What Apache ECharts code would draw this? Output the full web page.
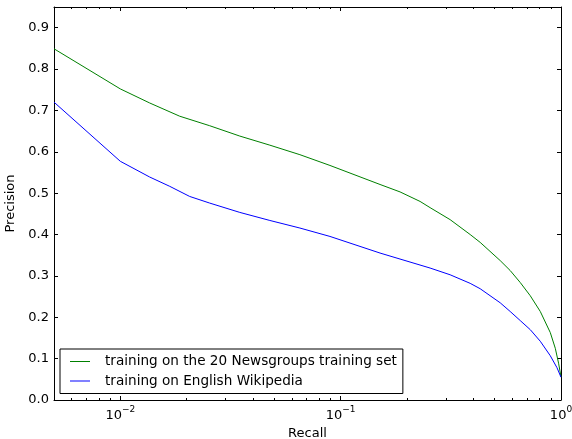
<!DOCTYPE html>
<html>
<head>
<meta charset="utf-8">
<script src="https://cdn.jsdelivr.net/npm/echarts@6/dist/echarts.min.js"></script>
<style>
html,body{margin:0;padding:0;background:#fff;}
#chart{width:572px;height:439px;}
</style>
</head>
<body>
<div id="chart"></div>
<script>
const newsRecall    = [0.005, 0.01, 0.01359, 0.0186, 0.02545, 0.03485, 0.04771, 0.06531, 0.08942, 0.1509, 0.186, 0.2293, 0.2546, 0.3139, 0.387, 0.4297, 0.5297, 0.588, 0.6531, 0.7253, 0.8052, 0.8941, 0.942, 0.975, 1.0];
const newsPrecision = [0.849, 0.752, 0.718, 0.686, 0.663, 0.638, 0.616, 0.593, 0.567, 0.521, 0.503, 0.480, 0.465, 0.436, 0.400, 0.381, 0.337, 0.313, 0.284, 0.252, 0.214, 0.163, 0.125, 0.089, 0.056];
const wikiRecall    = [0.005, 0.01, 0.01359, 0.01676, 0.02065, 0.02545, 0.03485, 0.04771, 0.06531, 0.08942, 0.1509, 0.2546, 0.3139, 0.387, 0.4297, 0.5297, 0.588, 0.6531, 0.7253, 0.8052, 0.8941, 0.959, 1.0];
const wikiPrecision = [0.720, 0.577, 0.539, 0.5165, 0.492, 0.476, 0.4535, 0.434, 0.4157, 0.3954, 0.3552, 0.319, 0.3027, 0.282, 0.269, 0.235, 0.214, 0.192, 0.170, 0.142, 0.107, 0.078, 0.055];
const seriesNames = ['training on the 20 Newsgroups training set', 'training on English Wikipedia'];
const xMajorTicks = [0.01, 0.1, 1];
const xMinorTicks = [0.006, 0.007, 0.008, 0.009, 0.02, 0.03, 0.04, 0.05, 0.06, 0.07, 0.08, 0.09, 0.2, 0.3, 0.4, 0.5, 0.6, 0.7, 0.8, 0.9];
const yTicks = [0, 0.1, 0.2, 0.3, 0.4, 0.5, 0.6, 0.7, 0.8, 0.9];

const FONT = 'DejaVu Sans';
const FS = 13;
const zip = (a, b) => a.map((v, i) => [v, b[i]]);

function xAxisDef(pos, major, showLine, showLabel) {
  return {
    type: 'log', logBase: 10, min: 0.005, max: 1, position: pos, gridIndex: 0,
    axisLine: { show: showLine, onZero: false, lineStyle: { color: '#000', width: 1 } },
    axisTick: { show: true, inside: true, length: major ? 4 : 2, customValues: major ? xMajorTicks : xMinorTicks, lineStyle: { color: '#000', width: 1 } },
    axisLabel: {
      show: showLabel, customValues: xMajorTicks, margin: 5, color: '#000',
      formatter: function (v) { const e = Math.round(Math.log10(v)); return '{b|10}{s|' + (e < 0 ? '\u2212' + (-e) : e) + '}'; },
      rich: {
        b: { fontFamily: FONT, fontSize: FS, color: '#000', verticalAlign: 'bottom', lineHeight: 17 },
        s: { fontFamily: FONT, fontSize: 9, color: '#000', verticalAlign: 'top', lineHeight: 10 }
      }
    },
    splitLine: { show: false },
    name: (showLabel ? 'Recall' : ''), nameLocation: 'middle', nameGap: 21,
    nameTextStyle: { fontFamily: FONT, fontSize: FS, color: '#000' }
  };
}

function yAxisDef(pos, showLabel) {
  return {
    type: 'value', min: 0, max: 0.95, position: pos, gridIndex: 0,
    axisLine: { show: true, onZero: false, lineStyle: { color: '#000', width: 1 } },
    axisTick: { show: true, inside: true, length: 4, customValues: yTicks, lineStyle: { color: '#000', width: 1 } },
    axisLabel: { show: showLabel, customValues: yTicks, margin: 5, color: '#000', fontFamily: FONT, fontSize: FS,
      formatter: v => v.toFixed(1) },
    splitLine: { show: false },
    name: (showLabel ? 'Precision' : ''), nameLocation: 'middle', nameGap: 27, nameRotate: 90,
    nameTextStyle: { fontFamily: FONT, fontSize: FS, color: '#000' }
  };
}

const chart = echarts.init(document.getElementById('chart'), null, { renderer: 'canvas' });
chart.setOption({
  animation: false,
  backgroundColor: '#fff',
  textStyle: { fontFamily: FONT },
  grid: { left: 54, right: 11, top: 7, bottom: 39, containLabel: false, outerBoundsMode: 'none' },
  xAxis: [
    xAxisDef('bottom', true, true, true),
    xAxisDef('bottom', false, false, false),
    xAxisDef('top', true, true, false),
    xAxisDef('top', false, false, false)
  ],
  yAxis: [
    yAxisDef('left', true),
    yAxisDef('right', false)
  ],
  legend: {
    orient: 'vertical', left: 60, top: 349,
    data: seriesNames,
    icon: 'rect',
    itemWidth: 20, itemHeight: 1, itemGap: 4.5,
    padding: [5, 6, 5, 10],
    borderColor: '#000', borderWidth: 1, borderRadius: 0, backgroundColor: '#fff',
    textStyle: { fontFamily: FONT, fontSize: 13.6, color: '#000', padding: [0, 0, 0, 10], lineHeight: 15 },
    selectedMode: false
  },
  series: [
    { name: seriesNames[0], type: 'line', xAxisIndex: 0, yAxisIndex: 0, data: zip(newsRecall, newsPrecision),
      showSymbol: false, symbol: 'none', lineStyle: { color: '#008000', width: 1 }, itemStyle: { color: '#008000' }, smooth: false },
    { name: seriesNames[1], type: 'line', xAxisIndex: 0, yAxisIndex: 0, data: zip(wikiRecall, wikiPrecision),
      showSymbol: false, symbol: 'none', lineStyle: { color: '#0000ff', width: 1 }, itemStyle: { color: '#0000ff' }, smooth: false }
  ]
});
</script>
</body>
</html>
